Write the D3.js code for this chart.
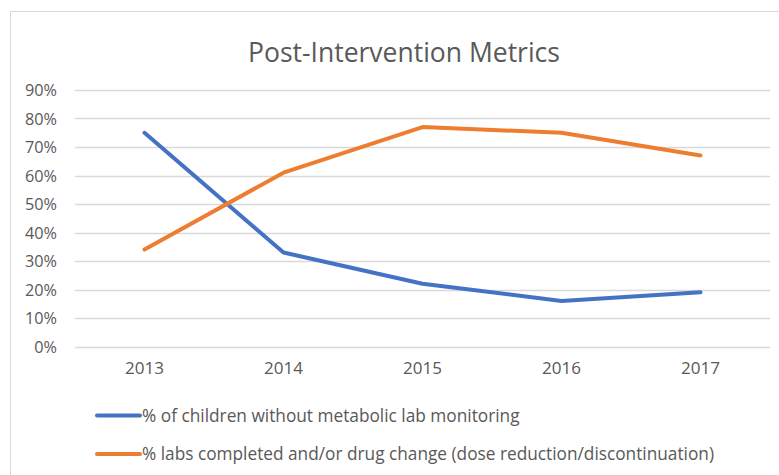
<!DOCTYPE html>
<html>
<head>
<meta charset="utf-8">
<script src="https://cdn.jsdelivr.net/npm/d3@7"></script>
<style>
  html, body { margin: 0; padding: 0; background: #fff; }
  svg { display: block; font-family: "Open Sans", "Noto Sans", sans-serif; }
</style>
</head>
<body>
<svg id="chart" width="779" height="475"></svg>
<script>
const title = "Post-Intervention Metrics";
const years = ["2013", "2014", "2015", "2016", "2017"];
const yTicks = [0, 0.1, 0.2, 0.3, 0.4, 0.5, 0.6, 0.7, 0.8, 0.9];
const seriesNames = [
  "% of children without metabolic lab monitoring",
  "% labs completed and/or drug change (dose reduction/discontinuation)"
];
const seriesColors = ["#4472C4", "#ED7D31"];
const noMonitoring = [0.75, 0.33, 0.22, 0.16, 0.19];
const labsCompleted = [0.34, 0.61, 0.77, 0.75, 0.67];
const seriesValues = [noMonitoring, labsCompleted];

const svg = d3.select("#chart");
const W = 779, H = 475;
const plot = { left: 75, right: 770, top: 90, bottom: 346.5 };

function fit(sel, target) {
  const base = parseFloat(sel.attr("font-size"));
  const w = sel.node().getComputedTextLength();
  sel.attr("font-size", (base * target / w).toFixed(2));
}
function fitGroup(texts, target) {
  const first = d3.select(texts.nodes()[texts.size() - 1]);
  const base = parseFloat(first.attr("font-size"));
  const w = first.node().getComputedTextLength();
  texts.attr("font-size", (base * target / w).toFixed(2));
}

// chart border
svg.append("rect")
  .attr("x", 10.5).attr("y", 11.5)
  .attr("width", W + 20).attr("height", H + 20)
  .attr("fill", "#fff").attr("stroke", "#d9d9d9").attr("stroke-width", 1);

const x = d3.scaleBand().domain(years).range([plot.left, plot.right]);
const y = d3.scaleLinear().domain([0, 0.9]).range([plot.bottom, plot.top]);

// gridlines
svg.append("g").selectAll("line").data(yTicks).join("line")
  .attr("x1", plot.left).attr("x2", plot.right)
  .attr("y1", d => Math.round(y(d)) + 0.5).attr("y2", d => Math.round(y(d)) + 0.5)
  .attr("stroke", "#d9d9d9").attr("stroke-width", 1.3);

// y axis labels
const yAxis = d3.axisLeft(y).tickValues(yTicks).tickFormat(d3.format(".0%")).tickSize(0).tickPadding(18);
const yg = svg.append("g").attr("transform", `translate(${plot.left},0)`).call(yAxis);
yg.select(".domain").remove();
yg.selectAll("text").attr("fill", "#595959").attr("font-size", 14).attr("font-family", "Open Sans").attr("dy", "0.35em");
fitGroup(yg.selectAll("text"), 32);

// x axis labels
const xAxis = d3.axisBottom(x).tickSize(0).tickPadding(20);
const xg = svg.append("g").attr("transform", `translate(0,${plot.bottom})`).call(xAxis);
xg.select(".domain").remove();
xg.selectAll("text").attr("fill", "#595959").attr("font-size", 14).attr("font-family", "Open Sans").attr("dy", "0.45em");
fitGroup(xg.selectAll("text"), 39);

// lines
const line = d3.line()
  .x((d, i) => x(years[i]) + x.bandwidth() / 2)
  .y(d => y(d));
seriesValues.forEach((vals, k) => {
  svg.append("path").datum(vals)
    .attr("d", line)
    .attr("fill", "none")
    .attr("stroke", seriesColors[k])
    .attr("stroke-width", 4)
    .attr("stroke-linecap", "round")
    .attr("stroke-linejoin", "round");
});

// title
const t = svg.append("text")
  .attr("x", 404).attr("y", 61.5)
  .attr("text-anchor", "middle")
  .attr("fill", "#595959")
  .attr("font-size", 24)
  .text(title);
fit(t, 312);

// legend
const legendY = [415.5, 454];
const legendW = [378, 572];
seriesNames.forEach((name, k) => {
  svg.append("line")
    .attr("x1", 97).attr("x2", 140)
    .attr("y1", legendY[k]).attr("y2", legendY[k])
    .attr("stroke", seriesColors[k]).attr("stroke-width", 4)
    .attr("stroke-linecap", "round");
  const lt = svg.append("text")
    .attr("x", 142).attr("y", legendY[k])
    .attr("dy", "0.35em")
    .attr("fill", "#595959")
    .attr("font-size", 15)
    .text(name);
  fit(lt, legendW[k]);
});
</script>
</body>
</html>
